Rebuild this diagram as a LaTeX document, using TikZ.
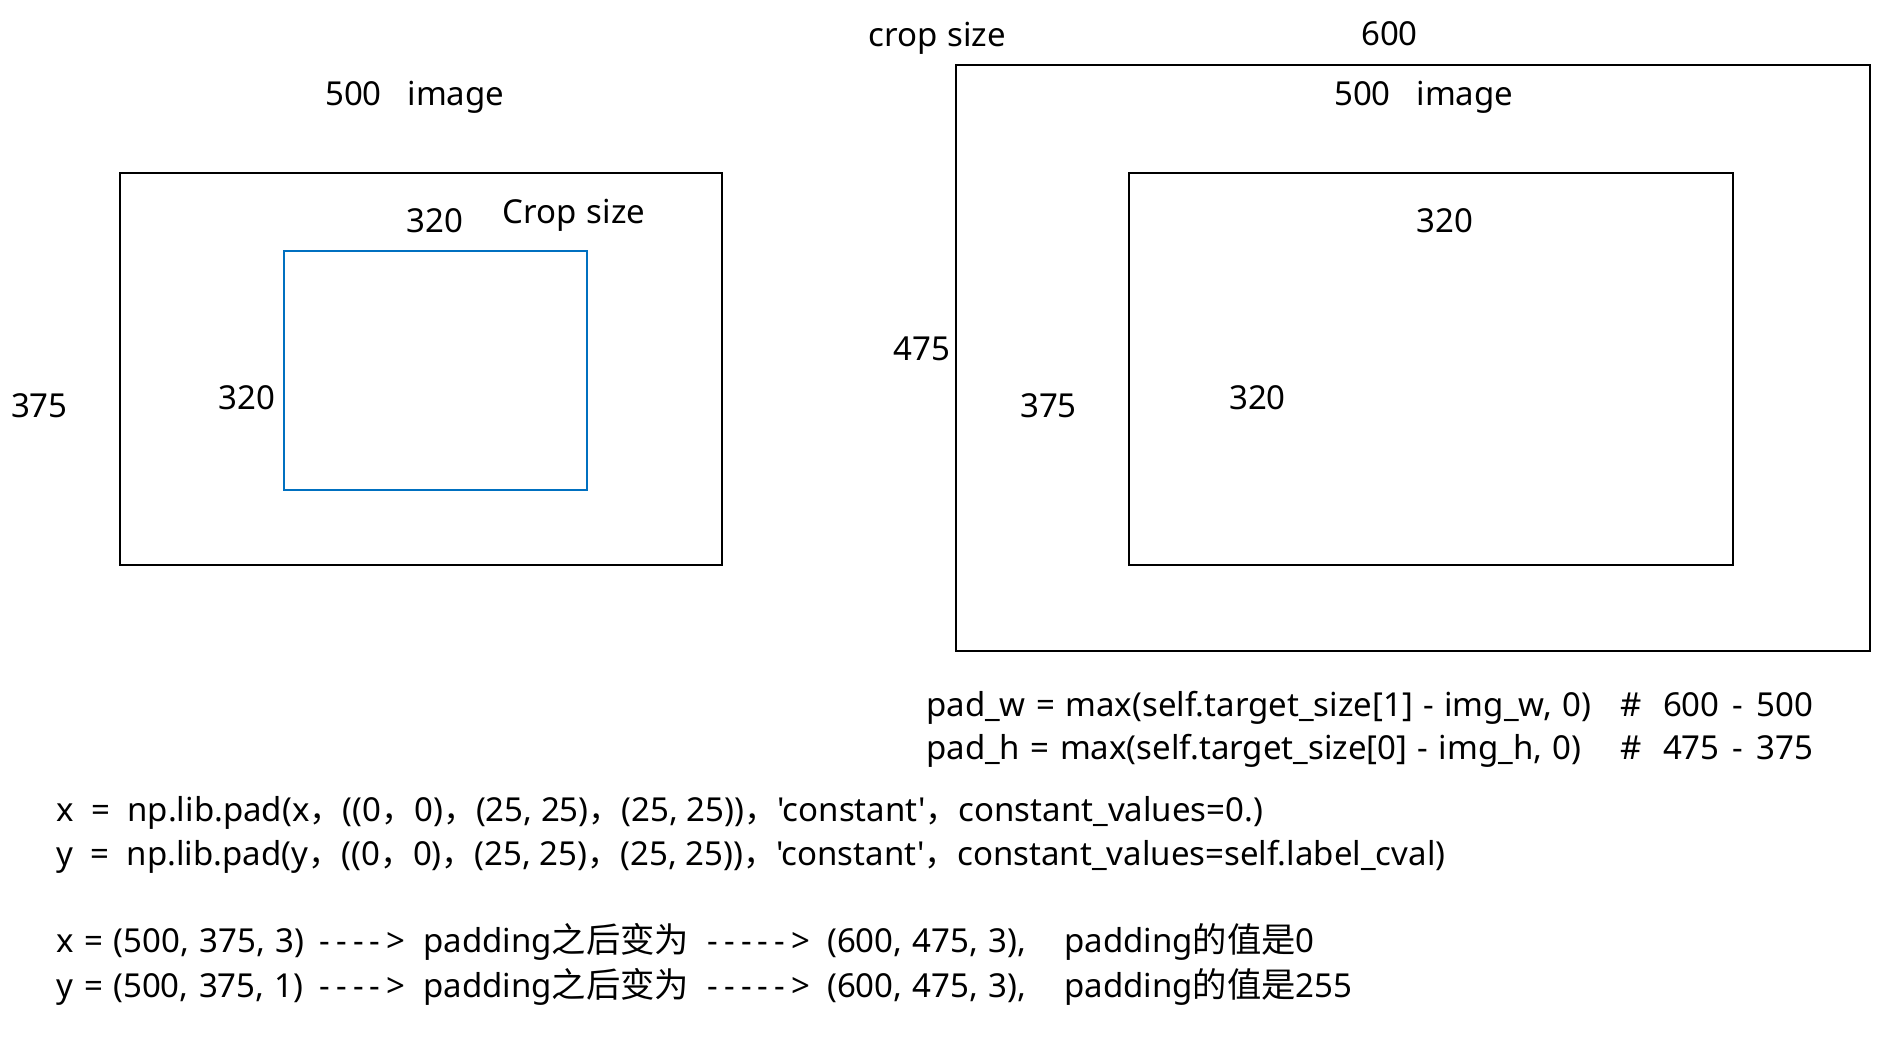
\documentclass[tikz,border=0pt]{standalone}
\usepackage{fontspec}
\setmainfont{Noto Sans}[Ligatures=TeXOff]
\newfontfamily\cjk{Noto Sans CJK SC}[Scale=1.04]
\newfontfamily\cjkc{Noto Sans CJK SC}
\definecolor{cropblue}{HTML}{0070C0}
\newcommand\hy{-\kern6.3pt}
\newcommand\lblfont{\fontsize{33}{40}\selectfont\spaceskip 10.4pt\relax}
\begin{document}
\begin{tikzpicture}[x=1pt,y=-1pt,
  lbl/.style={font=\lblfont, inner sep=0pt},
  code/.style={font=\fontsize{33}{40}\selectfont, inner sep=0pt},
  box/.style={draw=black, line width=2pt},
  cropbox/.style={draw=cropblue, line width=2pt}]
\useasboundingbox (0,0) rectangle (1888,1043);
% left picture
\node[box, minimum width=602pt, minimum height=391.3pt, anchor=north west, inner sep=0pt] (img) at (119.2,172.2) {};
\node[cropbox, minimum width=303.4pt, minimum height=238.4pt, anchor=north west, inner sep=0pt] (crop) at (283,250.5) {};
\node[lbl, anchor=base west] (limgw) at (325,106) {500\hspace{25.8pt}image};
\node[lbl, anchor=base] (lcw) at (434.7,232.4) {320};
\node[lbl, anchor=base west] (lcs) at (502,224) {Crop size};
\node[lbl, anchor=base east] (lch) at (275.7,409.4) {320};
\node[lbl, anchor=base west] (limgh) at (10.8,417.8) {375};
% right picture
\node[box, minimum width=913.9pt, minimum height=586.4pt, anchor=north west, inner sep=0pt] (pad) at (954.9,63.8) {};
\node[box, minimum width=603.3pt, minimum height=391.3pt, anchor=north west, inner sep=0pt] (img2) at (1128.2,172.2) {};
\node[lbl, anchor=base west] (rcs) at (868,47) {crop size};
\node[lbl, anchor=base] (rpw) at (1389.5,45.8) {600};
\node[lbl, anchor=base west] (rimgw) at (1334,106) {500\hspace{25.8pt}image};
\node[lbl, anchor=base] (rcw) at (1445,232.4) {320};
\node[lbl, anchor=base west] (rph) at (893.4,360) {475};
\node[lbl, anchor=base west] (rimgh) at (1020,417.8) {375};
\node[lbl, anchor=base west] (rch) at (1229,409.4) {320};
% formulas
\node[lbl, anchor=base west] (padw) at (926,716.4) {pad\_w = max(self.target\_size[1] - img\_w, 0)};
\node[lbl, anchor=base west] (padwc) at (1620.7,716.4) {\#~~600\hspace{13pt}-\hspace{13pt}500};
\node[lbl, anchor=base west] (padh) at (926,759.8) {pad\_h = max(self.target\_size[0] - img\_h, 0)};
\node[lbl, anchor=base west] (padhc) at (1620.7,759.8) {\#~~475\hspace{13pt}-\hspace{13pt}375};
% code
\node[code, anchor=base west] (codex) at (56.6,821.2) {x~~\textbf{=}~~np.lib.pad(x{\cjkc ，}((\textbf{0}{\cjkc ，}\textbf{0}){\cjkc ，}(25, 25){\cjkc ，}(25, 25)){\cjkc ，}'constant'{\cjkc ，}constant\_values\textbf{=0.})};
\node[code, anchor=base west] (codey) at (56.6,865.7) {y~~\textbf{=}~~np.lib.pad(y{\cjkc ，}((\textbf{0}{\cjkc ，}\textbf{0}){\cjkc ，}(25, 25){\cjkc ，}(25, 25)){\cjkc ，}'constant'{\cjkc ，}constant\_values=self.label\_cval)};
\node[lbl, anchor=base west] (resx) at (56.6,952.4) {\makebox[262.4pt][l]{x = (500, 375, 3)}\makebox[104pt][l]{\hy\hy\hy\hy>}\makebox[284pt][l]{padding{\cjk 之后变为}}\makebox[120pt][l]{\hy\hy\hy\hy\hy>}\makebox[237pt][l]{(600, 475, 3),}padding{\cjk 的值是}0};
\node[lbl, anchor=base west] (resy) at (56.6,997) {\makebox[262.4pt][l]{y = (500, 375, 1)}\makebox[104pt][l]{\hy\hy\hy\hy>}\makebox[284pt][l]{padding{\cjk 之后变为}}\makebox[120pt][l]{\hy\hy\hy\hy\hy>}\makebox[237pt][l]{(600, 475, 3),}padding{\cjk 的值是}255};
\end{tikzpicture}
\end{document}
